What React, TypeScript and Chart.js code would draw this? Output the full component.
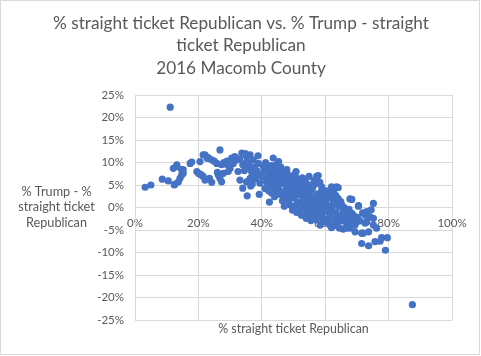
import React, { useEffect, useRef } from "react";
import { Chart, registerables } from "chart.js";

Chart.register(...registerables);

const titleLines = [
  "% straight ticket Republican vs. % Trump - straight",
  "ticket Republican",
  "2016 Macomb County",
];
const xAxisTitle = "% straight ticket Republican";
const yAxisTitleLines = ["% Trump - %", "straight ticket", "Republican"];

// x = % straight ticket Republican, y = % Trump - % straight ticket Republican
const xValues = [
  3.2, 5.0, 8.6, 10.5, 11.1, 12.4, 12.1, 13.2, 13.2, 13.7, 14.2, 14.7, 14.7, 15.2, 15.2, 12.6, 17.4, 17.9, 19.5,
  20.0, 20.5, 20.5, 21.5, 21.5, 22.1, 22.1, 23.1, 24.2, 24.2, 25.8, 26.3, 26.8, 26.8, 27.3, 27.3, 27.9, 28.9, 29.4, 21.0, 22.8, 23.5, 25.0, 26.0, 28.0, 29.0,
  30.0, 30.5, 31.5, 33.1, 33.7, 34.0, 35.2, 35.2, 35.4, 36.3, 36.3, 37.3, 37.3, 38.9, 39.4, 39.2, 31.0, 32.0, 32.5, 33.0, 34.0, 34.5, 35.0, 35.8, 36.0, 36.8, 37.0, 37.8, 38.0, 38.5, 38.8, 39.5, 36.5, 34.8,
  40.5, 41.5, 42.1, 42.4, 43.1, 43.6, 44.7, 44.7, 45.7, 47.3, 47.8, 47.3, 47.1, 49.7,
  40.2, 40.8, 41.0, 41.2, 41.8, 42.0, 42.5, 42.8, 43.0, 43.3, 43.5, 43.8, 44.0, 44.2, 44.5, 44.9, 45.0, 45.2, 45.5, 45.8, 46.0, 46.2, 46.4, 46.6, 46.8, 47.0, 47.5, 47.7, 48.0, 48.2, 48.4, 48.6, 48.8, 49.0, 49.2, 49.4, 49.6, 49.8, 45.3, 43.2, 46.5, 48.9, 44.3, 47.9, 42.2,
  50.5, 51.5, 53.1, 54.2, 55.2, 57.3, 56.2, 57.3, 55.2, 56.2, 57.8, 58.9, 58.4, 59.4,
  50.0, 50.2, 50.4, 50.7, 50.9, 51.1, 51.3, 51.6, 51.8, 52.0, 52.2, 52.4, 52.6, 52.8, 53.0, 53.3, 53.5, 53.7, 53.9, 54.1, 54.4, 54.6, 54.8, 55.0, 55.4, 55.6, 55.8, 56.0, 56.4, 56.6, 56.8, 57.0, 57.5, 57.7, 58.0, 58.2, 58.5, 58.7, 59.0, 59.2, 59.5, 59.7, 59.9, 51.0, 52.5, 54.0, 55.5, 57.2, 53.6, 56.5, 58.3, 50.8, 54.9,
  60.5, 62.0, 63.6, 64.1, 62.6, 64.1, 65.2, 65.7, 67.8, 68.4, 65.7, 66.8, 65.2, 68.8, 69.4, 69.9, 67.8, 68.4, 69.4, 66.8,
  60.2, 60.4, 60.7, 61.0, 61.2, 61.5, 61.8, 62.2, 62.4, 62.8, 63.0, 63.3, 63.5, 63.8, 64.3, 64.6, 64.9, 65.5, 66.0, 66.3, 66.6, 67.2, 67.5, 68.0, 69.0, 61.3, 62.0, 63.2, 64.5,
  70.5, 71.0, 71.5, 71.5, 72.0, 72.6, 72.6, 73.1, 73.1, 73.7, 73.7, 74.1, 75.2, 75.2, 75.2, 75.7, 76.2, 77.3, 77.8, 79.6, 79.0, 70.5, 70.2, 71.8, 74.5,
  87.5,
];
const yValues = [
  4.5, 5.0, 6.3, 5.9, 22.3, 5.0, 8.7, 9.1, 9.5, 5.7, 6.5, 8.4, 7.2, 7.6, 8.4, 5.2, 9.8, 10.1, 8.0,
  7.6, 10.2, 7.4, 6.9, 11.7, 11.7, 6.1, 11.1, 10.6, 5.6, 9.8, 7.2, 12.8, 6.5, 9.5, 5.7, 7.6, 9.6, 8.0, 7.2, 10.9, 6.5, 10.3, 7.8, 10.0, 10.3,
  8.7, 11.0, 11.3, 6.1, 12.1, 4.3, 11.3, 5.7, 2.6, 11.7, 6.5, 10.6, 7.2, 9.8, 5.4, 2.9, 9.8, 10.5, 8.0, 10.8, 9.5, 8.2, 10.0, 8.8, 9.9, 7.9, 5.2, 9.0, 6.4, 8.1, 11.5, 7.3, 4.8, 12.0,
  9.1, 5.7, 7.8, 1.2, 3.2, 11.0, 9.6, 5.0, 6.5, 7.2, 4.3, 2.0, 0.3, -0.6,
  6.8, 8.2, 4.2, 10.0, 6.5, 8.9, 5.1, 7.0, 9.3, 4.6, 6.1, 8.3, 2.4, 7.4, 3.8, 8.7, 5.8, 4.1, 7.9, 2.9, 9.0, 5.3, 6.9, 3.5, 8.0, 5.9, 6.4, 3.1, 7.6, 5.0, 1.6, 6.1, 4.4, 7.0, 2.7, 5.5, 3.9, 6.6, 10.2, 5.6, 1.5, 0.6, 6.4, 8.4, 3.7,
  7.4, 5.0, 3.5, 2.0, 5.0, 6.9, 0.6, -1.3, -2.0, -0.9, 7.1, 4.6, -3.9, -3.2,
  4.6, 2.1, 5.8, 0.4, 3.3, 6.4, 1.2, 4.1, -0.5, 2.8, 5.6, 3.9, 0.9, 6.6, 2.2, 4.8, -0.2, 1.5, 5.4, 3.1, -1.0, 4.3, 0.6, 2.5, 3.6, 1.0, -0.4, 4.2, 2.2, -1.6, 5.2, 1.4, 3.0, -0.6, 2.1, 0.2, -2.1, 3.5, 1.0, -1.2, 2.6, 0.1, -2.6, -1.1, -1.7, -2.4, -2.9, -2.7, 6.1, 6.0, 5.6, 8.0, 6.9,
  3.7, 4.6, 4.6, 4.4, 3.5, 2.0, 0.6, -0.9, 1.9, -1.3, -4.8, -3.9, -3.0, -2.4, -5.4, -3.2, -4.6, 1.8, -3.9, -4.6,
  1.5, -0.8, -3.0, 2.4, 0.3, -1.8, 3.0, -0.5, 1.6, -2.6, 0.8, 2.7, -1.2, -3.4, 0.2, -2.0, 1.3, -1.8, 0.0, -2.5, -1.0, -2.0, -0.4, -3.1, -1.8, -3.8, -4.5, -4.0, -4.6,
  0.4, -3.0, -5.7, -8.0, -5.7, -1.7, -3.5, -0.9, -3.2, -5.4, -8.5, -2.0, 0.9, -2.4, -3.9, -7.6, -4.6, -7.5, -6.7, -6.7, -9.5, 0.3, -2.2, -1.2, -0.5,
  -21.6,
];

const xMin = 0;
const xMax = 100;
const xStep = 20;
const yMin = -25;
const yMax = 25;
const yStep = 5;

const FONT = "Lato, 'Open Sans', sans-serif";
const TEXT = "#595959";
const GRID = "#d9d9d9";

export default function App() {
  const ref = useRef<HTMLCanvasElement>(null);

  useEffect(() => {
    document.body.style.margin = "0";
    const canvas = ref.current;
    if (!canvas) return;
    const points = xValues.map((x, i) => ({ x, y: yValues[i] }));

    const decor = {
      id: "decor",
      afterDraw(chart: any) {
        const ctx = chart.ctx as CanvasRenderingContext2D;
        const area = chart.chartArea;
        ctx.save();
        ctx.strokeStyle = GRID;
        ctx.lineWidth = 1;
        ctx.strokeRect(0.5, 0.5, 479, 354);
        ctx.fillStyle = TEXT;
        ctx.textAlign = "center";
        ctx.textBaseline = "alphabetic";
        ctx.font = `17.2px ${FONT}`;
        const tb = [28.5, 51, 73.5];
        titleLines.forEach((t, i) => ctx.fillText(t, 241, tb[i]));
        ctx.font = `12.7px ${FONT}`;
        const yb = [195.5, 211, 226.5];
        yAxisTitleLines.forEach((t, i) => ctx.fillText(t, 56.5, yb[i]));
        ctx.font = `12.4px ${FONT}`;
        ctx.fillText(xAxisTitle, (area.left + area.right) / 2, 332.5);
        ctx.restore();
      },
    };

    const chart = new Chart(canvas, {
      type: "scatter",
      data: {
        datasets: [
          {
            data: points,
            backgroundColor: "#4472C4",
            borderColor: "#4472C4",
            borderWidth: 0,
            pointRadius: 3.6,
            pointHoverRadius: 3.6,
          },
        ],
      },
      options: {
        responsive: false,
        animation: false,
        events: [],
        layout: { padding: { top: 95, right: 29, bottom: 36, left: 0 } },
        plugins: {
          legend: { display: false },
          tooltip: { enabled: false },
          title: { display: false },
        },
        scales: {
          x: {
            type: "linear",
            position: { y: 0 } as any,
            min: xMin,
            max: xMax,
            ticks: {
              stepSize: xStep,
              callback: (v: any) => `${v}%`,
              color: TEXT,
              font: { family: FONT, size: 11.5 },
              padding: 9,
              maxRotation: 0,
            },
            grid: { color: GRID, drawTicks: false },
            border: { display: false },
          },
          y: {
            type: "linear",
            min: yMin,
            max: yMax,
            ticks: {
              stepSize: yStep,
              callback: (v: any) => `${v}%`,
              color: TEXT,
              font: { family: FONT, size: 11.5 },
              padding: 11,
            },
            grid: { color: GRID, drawTicks: false },
            border: { color: GRID },
            afterFit: (s: any) => {
              s.width = 135;
            },
          },
        },
      },
      plugins: [decor],
    });
    return () => chart.destroy();
  }, []);

  return <canvas ref={ref} width={481} height={356} style={{ display: "block" }} />;
}
